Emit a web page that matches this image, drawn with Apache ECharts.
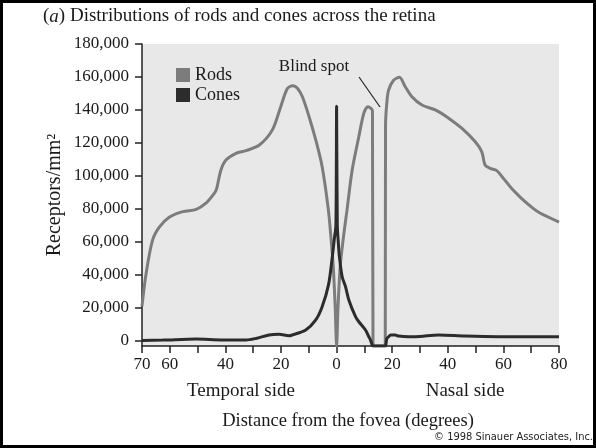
<!DOCTYPE html>
<html>
<head>
    <meta charset="UTF-8">
    <title>Rods and cones across the retina</title>
    <script src="https://cdn.jsdelivr.net/npm/echarts@6/dist/echarts.min.js"></script>
    <style>
        html, body { margin: 0; padding: 0; background: #fff; }
    </style>
</head>
<body>
    <div id="chart" style="width:596px; height:448px;"></div>
    <script>
        // distance from fovea in degrees (temporal side negative, nasal positive)
        var rodsX = [-70, -68.5, -66.2, -63.7, -60.1, -55.3, -50.5, -47, -44, -43.2, -41.6, -39.8, -36.2, -32.6,
            -27.8, -23.1, -20.1, -17.7, -15.7, -14.1, -12.3, -9.9, -7.5, -5.2, -3.0, -2.0, -1.2, -0.5, 0,
            0.5, 1.3, 2.4, 3.8, 5.6, 8.0, 9.8, 11.3, 12.6, 12.9, 13.1, 17.5, 17.6, 18.0, 18.7, 20.5, 22.6,
            24.7, 27.1, 30.7, 35.5, 40.3, 45, 49.8, 52.2, 53.4, 55.2, 57.6, 60, 62.9, 66.5, 70.7, 73.3, 80];
        var rodsY = [21000, 41000, 61000, 69000, 75000, 78300, 79700, 83400, 89400, 92000, 103600, 109600, 113700, 115300,
            118700, 127900, 142000, 153000, 154600, 153200, 148000, 135900, 121800, 105600, 80000, 62000, 45000, 20000, -3200,
            20000, 45000, 62000, 80000, 103600, 123800, 138000, 142000, 140500, 139000, -3200, -3200, 130000, 143000, 152000, 158000, 159800,
            154100, 148000, 143000, 140000, 135000, 128900, 120800, 114700, 106600, 104600, 103200, 98500, 92500, 86400, 80300, 77300, 72000];

        var conesX = [-70, -62.5, -50.5, -41, -32.6, -29, -24.3, -20.7, -17.1, -15.9, -11.1, -7.5, -5.2, -2.9, -1.6, -0.8, -0.25, 0,
            0.25, 0.6, 1.0, 2.0, 3.2, 4.4, 6.8, 8.0, 10.4, 11.6, 12.2, 12.8, 13.0, 17.6, 17.8, 18.1, 18.7, 19.4, 21.1, 22.3,
            25.9, 28.3, 36.7, 46.2, 58.2, 80];
        var conesY = [200, 400, 1000, 400, 400, 1400, 3500, 3900, 3000, 3500, 6500, 12600, 20600, 34000, 50000, 62000, 70000, 142300,
            70000, 60000, 51000, 38800, 32800, 24700, 14600, 11500, 6500, 2400, 400, -2600, -3200, -3200, -1500, 1500, 2400, 3500, 3500, 2800,
            2400, 2400, 3500, 2800, 2400, 2400];

        var xTicks = [-70, -60, -50, -40, -30, -20, -10, 0, 10, 20, 30, 40, 50, 60, 70, 80];
        var xLabels = [-70, -60, -40, -20, 0, 20, 40, 60, 80];
        var yTicks = [0, 20000, 40000, 60000, 80000, 100000, 120000, 140000, 160000, 180000];

        function pairs(xs, ys) {
            return xs.map(function (x, i) { return [x, ys[i]]; });
        }

        var serif = '"Liberation Serif", "DejaVu Serif", serif';
        var ink = '#1a1a1a';

        var chart = echarts.init(document.getElementById('chart'), null, {renderer: 'canvas'});

        chart.setOption({
            animation: false,
            backgroundColor: '#fff',
            grid: {
                left: 142, right: 37, top: 44, bottom: 102,
                show: true, backgroundColor: '#e8e8e8', borderWidth: 0
            },
            legend: {
                orient: 'vertical', left: 171, top: 61,
                itemWidth: 14, itemHeight: 14, itemGap: 2,
                icon: 'rect',
                textStyle: {fontFamily: serif, fontSize: 18, color: ink},
                data: ['Rods', 'Cones']
            },
            xAxis: {
                type: 'value', min: -70, max: 80,
                splitLine: {show: false},
                axisLine: {onZero: false, lineStyle: {color: '#222', width: 1.5}},
                axisTick: {customValues: xTicks, length: 7, lineStyle: {color: '#222', width: 1.5}},
                axisLabel: {
                    customValues: xLabels, margin: 10,
                    fontFamily: serif, fontSize: 17, color: ink,
                    formatter: function (v) { return String(Math.abs(v)); }
                }
            },
            yAxis: {
                type: 'value', min: -3200, max: 180000,
                splitLine: {show: false},
                axisLine: {show: true, onZero: false, lineStyle: {color: '#222', width: 1.5}},
                axisTick: {show: true, customValues: yTicks, length: 7, lineStyle: {color: '#222', width: 1.5}},
                axisLabel: {
                    customValues: yTicks, margin: 13,
                    fontFamily: serif, fontSize: 17, color: ink,
                    formatter: function (v) { return v.toLocaleString('en-US'); }
                }
            },
            series: [
                {
                    name: 'Rods', type: 'line', data: pairs(rodsX, rodsY),
                    showSymbol: false, smooth: 0.3, clip: true,
                    color: '#7c7c7c',
                    lineStyle: {color: '#7c7c7c', width: 3}
                },
                {
                    name: 'Cones', type: 'line', data: pairs(conesX, conesY),
                    showSymbol: false, smooth: 0.3, clip: true,
                    color: '#2c2c2c',
                    lineStyle: {color: '#2c2c2c', width: 3}
                }
            ],
            graphic: [
                {
                    type: 'text', left: 43, top: 7,
                    style: {
                        text: '({i|a}) Distributions of rods and cones across the retina',
                        font: '19px ' + serif, fill: ink,
                        rich: {i: {fontStyle: 'italic', fontFamily: serif, fontSize: 19, fill: ink}}
                    }
                },
                {
                    type: 'text', x: 55, y: 195, rotation: Math.PI / 2,
                    style: {
                        text: 'Receptors/mm²', font: '20px ' + serif, fill: ink,
                        align: 'center', verticalAlign: 'middle'
                    }
                },
                {
                    type: 'text', x: 241, y: 391,
                    style: {text: 'Temporal side', font: '19px ' + serif, fill: ink, align: 'center', verticalAlign: 'middle'}
                },
                {
                    type: 'text', x: 465, y: 391,
                    style: {text: 'Nasal side', font: '19px ' + serif, fill: ink, align: 'center', verticalAlign: 'middle'}
                },
                {
                    type: 'text', x: 348, y: 421,
                    style: {text: 'Distance from the fovea (degrees)', font: '18.5px ' + serif, fill: ink, align: 'center', verticalAlign: 'middle'}
                },
                {
                    type: 'text', x: 314, y: 67,
                    style: {text: 'Blind spot', font: '17px ' + serif, fill: ink, align: 'center', verticalAlign: 'middle'}
                },
                {
                    type: 'line', shape: {x1: 359, y1: 77, x2: 380, y2: 107},
                    style: {stroke: '#222', lineWidth: 1.2}
                },
                {
                    type: 'text', right: 3, top: 432,
                    style: {text: '© 1998 Sinauer Associates, Inc.', font: '11px "DejaVu Sans Condensed", "DejaVu Sans", sans-serif', fill: '#222'}
                },
                {
                    type: 'rect', shape: {x: 1.5, y: 1.5, width: 593, height: 445},
                    style: {fill: 'none', stroke: '#000', lineWidth: 3}
                }
            ]
        });
    </script>
</body>
</html>
